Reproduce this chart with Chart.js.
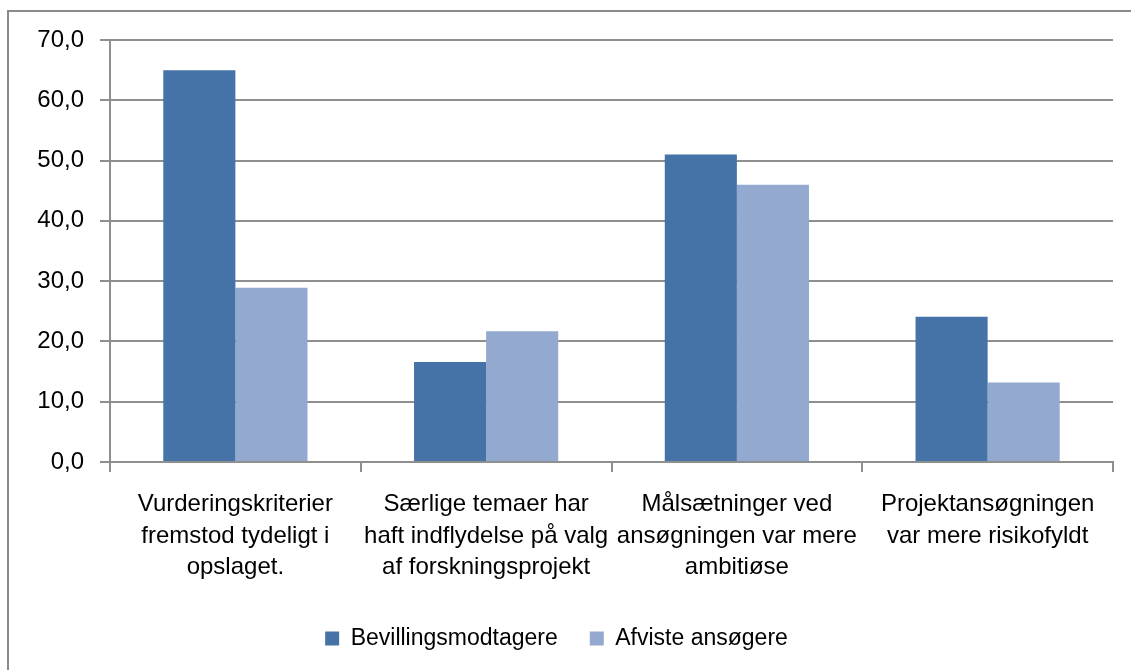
<!DOCTYPE html>
<html lang="da">
<head>
<meta charset="UTF-8" />
<title>Bevillingsmodtagere og afviste ansøgere</title>
<script src="https://cdn.jsdelivr.net/npm/chart.js"></script>
<style>
	html, body {
		margin: 0;
		padding: 0;
		background: #ffffff;
		overflow: hidden;
	}

	.frame {
		position: absolute;
		left: 7px;
		top: 10px;
		width: 1200px;
		height: 700px;
		border-left: 2px solid #8a8a8a;
		border-top: 2px solid #8a8a8a;
	}

	.chart-wrap {
		position: absolute;
		left: 0;
		top: 0;
		width: 1131px;
		height: 670px;
	}
</style>
</head>
<body>
<div class="frame"></div>
<div class="chart-wrap">
	<canvas id="chart"></canvas>
</div>

<script>
const categories = [
	['Vurderingskriterier', 'fremstod tydeligt i', 'opslaget.'],
	['Særlige temaer har', 'haft indflydelse på valg', 'af forskningsprojekt'],
	['Målsætninger ved', 'ansøgningen var mere', 'ambitiøse'],
	['Projektansøgningen', 'var mere risikofyldt'],
];
const seriesNames = ['Bevillingsmodtagere', 'Afviste ansøgere'];
const bevillingsmodtagere = [65.0, 16.6, 51.0, 24.1];
const afvisteAnsoegere = [28.9, 21.7, 46.0, 13.2];
const yTicks = [0, 10, 20, 30, 40, 50, 60, 70];

const FONT = '"Liberation Sans", Arial, sans-serif';
const GRID = '#8f8f8f';

const formatTick = (value) => value.toFixed(1).replace('.', ',');

new Chart(document.getElementById('chart'), {
	type: 'bar',
	data: {
		labels: categories,
		datasets: [
			{
				label: seriesNames[0],
				data: bevillingsmodtagere,
				backgroundColor: '#4572a7',
				borderWidth: 0,
			},
			{
				label: seriesNames[1],
				data: afvisteAnsoegere,
				backgroundColor: '#93a9cf',
				borderWidth: 0,
			},
		],
	},
	options: {
		responsive: true,
		maintainAspectRatio: false,
		animation: false,
		categoryPercentage: 0.575,
		barPercentage: 1,
		layout: {
			padding: { top: 40, right: 18, bottom: 10, left: 0 },
		},
		plugins: {
			tooltip: { enabled: false },
			legend: {
				position: 'bottom',
				labels: {
					color: '#000000',
					font: { family: FONT, size: 23 },
					boxWidth: 14,
					boxHeight: 14,
					padding: 32,
				},
			},
		},
		scales: {
			x: {
				afterFit(scale) {
					scale.height = 133;
				},
				grid: {
					offset: true,
					drawOnChartArea: false,
					drawTicks: true,
					tickLength: 10,
					color: GRID,
					lineWidth: 2,
				},
				border: { display: true, color: GRID, width: 2 },
				ticks: {
					color: '#000000',
					font: { family: FONT, size: 24, lineHeight: 1.31 },
					padding: 17,
					maxRotation: 0,
					autoSkip: false,
				},
			},
			y: {
				min: 0,
				max: 70,
				afterFit(scale) {
					scale.width = 110;
				},
				afterBuildTicks(scale) {
					scale.ticks = yTicks.map((value) => ({ value }));
				},
				grid: {
					drawTicks: true,
					tickLength: 10,
					color: GRID,
					lineWidth: 2,
				},
				border: { display: true, color: GRID, width: 2 },
				ticks: {
					color: '#000000',
					font: { family: FONT, size: 24 },
					padding: 16,
					callback: (value) => formatTick(value),
				},
			},
		},
	},
});
</script>
</body>
</html>
